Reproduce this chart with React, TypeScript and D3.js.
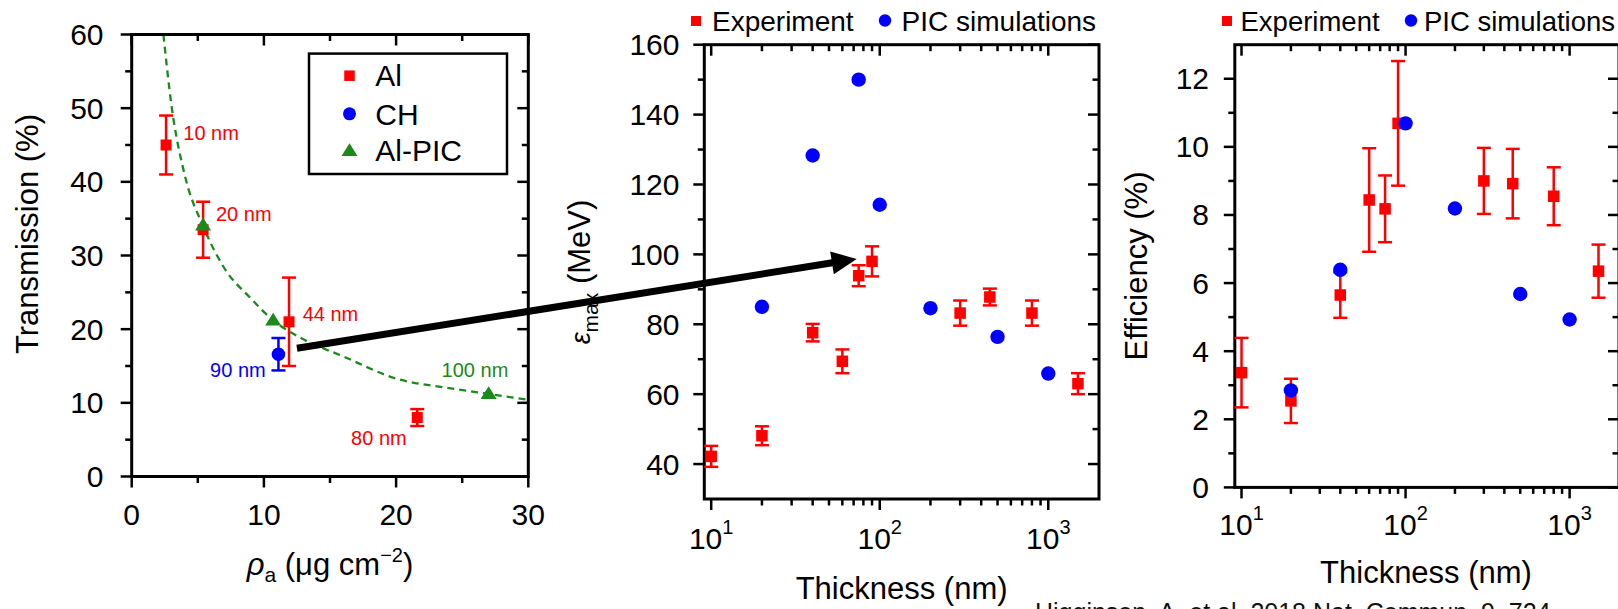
import React from "react";
import * as d3 from "d3";

// ---------- data: panel a (transmission vs areal density) ----------
const alRho = [2.6, 5.4, 11.9, 21.6];
const alTrans = [45, 33.5, 21, 8];
const alErr = [4, 3.8, 6, 1.15];
const alLabels = ["10 nm", "20 nm", "44 nm", "80 nm"];
const chRho = [11.1];
const chTrans = [16.6];
const chErr = [2.2];
const chLabels = ["90 nm"];
const picRho = [5.4, 10.7, 27.0];
const picTrans = [34.1, 21.2, 11.2];
const fitRho = [2.4, 3, 4, 5.4, 7, 9, 10.7, 12.8, 16, 20, 24, 27, 30];
const fitTrans = [60, 50.5, 41, 34, 28.3, 24.2, 21.2, 18.8, 16.3, 13.3, 12.0, 11.2, 10.4];
const aXTicks = [0, 10, 20, 30];
const aYTicks = [0, 10, 20, 30, 40, 50, 60];

// ---------- data: panel b (max energy vs thickness) ----------
const expThick = [10, 20, 40, 60, 75, 90, 300, 450, 800, 1500];
const expEnergy = [42.2, 48.1, 77.6, 69.4, 93.9, 98.0, 83.2, 87.8, 83.2, 63.0];
const expEnergyErr = [3, 2.7, 2.5, 3.4, 3, 4.3, 3.6, 2.4, 3.6, 3];
const picThick = [20, 40, 75, 100, 200, 500, 1000];
const picEnergy = [85, 128.3, 150, 114.2, 84.6, 76.4, 65.9];
const bYTicks = [40, 60, 80, 100, 120, 140, 160];

// ---------- data: panel c (efficiency vs thickness) ----------
const expEff = [3.37, 2.54, 5.65, 8.44, 8.18, 10.69, 9.0, 8.92, 8.55, 6.35];
const expEffErr = [1.02, 0.65, 0.67, 1.52, 0.98, 1.83, 0.97, 1.02, 0.85, 0.78];
const picEffThick = [20, 40, 100, 200, 500, 1000];
const picEff = [2.85, 6.39, 10.69, 8.19, 5.68, 4.93];
const cYTicks = [0, 2, 4, 6, 8, 10, 12];

const logMajors = [10, 100, 1000];
const logExps = ["1", "2", "3"];

// arrow: from panel a point to panel b point
const arrowFrom = { rho: 12.5, trans: 17.4 };
const arrowTo = { thick: 73, energy: 98.7 };

const citation = "Higginson, A. et al. 2018 Nat. Commun. 9, 724";

const FONT = "'Liberation Sans', Arial, Helvetica, sans-serif";
const RED = "#ff0000";
const BLUE = "#0000ff";
const GREEN = "#1a8a1a";
const MAJ = 11;
const MIN = 6.5;
const SW = 2.5;

function logMinors(domain: number[]) {
  const out: number[] = [];
  for (const d of [1, 10, 100, 1000]) {
    for (let m = 2; m <= 9; m++) {
      const v = d * m;
      if (v > domain[0] && v < domain[1]) out.push(v);
    }
  }
  return out;
}

function Frame({ x0, x1, y0, y1 }: any) {
  return (
    <rect x={x0} y={y1} width={x1 - x0} height={y0 - y1} fill="none" stroke="#000" strokeWidth={SW + 0.5} />
  );
}

function Ticks({ xs, ys, xMaj, xMin, yMaj, yMin }: any) {
  const [x0, x1] = xs.range();
  const [y0, y1] = ys.range();
  const els: any[] = [];
  xMaj.forEach((v: number, i: number) => {
    const x = xs(v);
    els.push(<line key={"xb" + i} x1={x} x2={x} y1={y0} y2={y0 + MAJ} />);
    els.push(<line key={"xt" + i} x1={x} x2={x} y1={y1} y2={y1 + MAJ} />);
  });
  xMin.forEach((v: number, i: number) => {
    const x = xs(v);
    els.push(<line key={"xbm" + i} x1={x} x2={x} y1={y0} y2={y0 + MIN} />);
    els.push(<line key={"xtm" + i} x1={x} x2={x} y1={y1} y2={y1 + MIN} />);
  });
  yMaj.forEach((v: number, i: number) => {
    const y = ys(v);
    els.push(<line key={"yl" + i} x1={x0 - MAJ} x2={x0} y1={y} y2={y} />);
    els.push(<line key={"yr" + i} x1={x1 - MAJ} x2={x1} y1={y} y2={y} />);
  });
  yMin.forEach((v: number, i: number) => {
    const y = ys(v);
    els.push(<line key={"ylm" + i} x1={x0 - MIN} x2={x0} y1={y} y2={y} />);
    els.push(<line key={"yrm" + i} x1={x1 - MIN} x2={x1} y1={y} y2={y} />);
  });
  return <g stroke="#000" strokeWidth={SW}>{els}</g>;
}

function ErrBar({ x, yTop, yBot, color }: any) {
  const cw = 7;
  return (
    <g stroke={color} strokeWidth={2.5}>
      <line x1={x} x2={x} y1={yTop} y2={yBot} />
      <line x1={x - cw} x2={x + cw} y1={yTop} y2={yTop} />
      <line x1={x - cw} x2={x + cw} y1={yBot} y2={yBot} />
    </g>
  );
}

function Square({ x, y, s = 11, color = RED }: any) {
  return <rect x={x - s / 2} y={y - s / 2} width={s} height={s} fill={color} />;
}

function Tri({ x, y, s = 16, color = GREEN }: any) {
  const h = s * 0.8;
  return <path d={`M${x},${y - h * 0.6} L${x + s / 2},${y + h * 0.4} L${x - s / 2},${y + h * 0.4} Z`} fill={color} />;
}

export default function App() {
  const ax = d3.scaleLinear().domain([0, 30]).range([131.7, 528.3]);
  const ay = d3.scaleLinear().domain([0, 60]).range([476.5, 34.5]);
  const bx = d3.scaleLog().domain([9.1, 2000]).range([704.3, 1099]);
  const by = d3.scaleLinear().domain([30, 160]).range([499, 44.7]);
  const cx = d3.scaleLog().domain([9.1, 2000]).range([1234.8, 1619]);
  const cy = d3.scaleLinear().domain([0, 13]).range([487.4, 44.7]);

  const fitLine = d3
    .line<number>()
    .x((_, i) => ax(fitRho[i]))
    .y((d) => ay(d))
    .curve(d3.curveMonotoneX)(fitTrans);

  const minorsLog = logMinors(bx.domain());

  // arrow geometry derived from data scales
  const sx = ax(arrowFrom.rho), sy = ay(arrowFrom.trans);
  const tx = bx(arrowTo.thick), ty = by(arrowTo.energy);
  const len = Math.hypot(tx - sx, ty - sy);
  const ux = (tx - sx) / len, uy = (ty - sy) / len;
  const hl = 25, hw = 11.5;
  const bxp = tx - ux * hl, byp = ty - uy * hl;
  const nx = -uy, ny = ux;

  const tickFont = 30;

  return (
    <svg
      width={1618}
      height={609}
      style={{ position: "absolute", left: 0, top: 0, background: "#fff" }}
      fontFamily={FONT}
    >
      <rect x={0} y={0} width={1618} height={609} fill="#fff" />

      {/* ================= Panel a ================= */}
      <path d={fitLine || ""} fill="none" stroke={GREEN} strokeWidth={2.3} strokeDasharray="7 5" />
      <Frame x0={131.7} x1={528.3} y0={476.5} y1={34.5} />
      <Ticks xs={ax} ys={ay} xMaj={aXTicks} xMin={[5, 15, 25]} yMaj={aYTicks} yMin={[5, 15, 25, 35, 45, 55]} />
      {aYTicks.map((v) => (
        <text key={"ayl" + v} x={103.5} y={ay(v) + 10.5} textAnchor="end" fontSize={tickFont}>{v}</text>
      ))}
      {aXTicks.map((v) => (
        <text key={"axl" + v} x={ax(v)} y={525} textAnchor="middle" fontSize={tickFont}>{v}</text>
      ))}
      <text transform="translate(38,234) rotate(-90)" textAnchor="middle" fontSize={31}>Transmission (%)</text>
      <text x={330} y={575} textAnchor="middle" fontSize={31}>
        <tspan fontStyle="italic">ρ</tspan>
        <tspan fontSize={21} dy={7}>a</tspan>
        <tspan dy={-7}> (μg cm</tspan>
        <tspan fontSize={20} dy={-13}>−2</tspan>
        <tspan dy={13}>)</tspan>
      </text>

      {alRho.map((r, i) => (
        <g key={"al" + i}>
          <ErrBar x={ax(r)} yTop={ay(alTrans[i] + alErr[i])} yBot={ay(alTrans[i] - alErr[i])} color={RED} />
          <Square x={ax(r)} y={ay(alTrans[i])} s={11} />
        </g>
      ))}
      {chRho.map((r, i) => (
        <g key={"ch" + i}>
          <ErrBar x={ax(r)} yTop={ay(chTrans[i] + chErr[i])} yBot={ay(chTrans[i] - chErr[i])} color={BLUE} />
          <circle cx={ax(r)} cy={ay(chTrans[i])} r={6.8} fill={BLUE} />
        </g>
      ))}
      {picRho.map((r, i) => (
        <Tri key={"pic" + i} x={ax(r)} y={ay(picTrans[i])} s={16} />
      ))}
      <g fontSize={20}>
        <text x={183.3} y={140} fill={RED}>{alLabels[0]}</text>
        <text x={216} y={221} fill={RED}>{alLabels[1]}</text>
        <text x={302.7} y={320.5} fill={RED}>{alLabels[2]}</text>
        <text x={406.7} y={444.5} fill={RED} textAnchor="end">{alLabels[3]}</text>
        <text x={265.7} y={376.5} fill={BLUE} textAnchor="end">{chLabels[0]}</text>
        <text x={508.3} y={376.5} fill={GREEN} textAnchor="end">100 nm</text>
      </g>

      {/* legend a */}
      <rect x={309} y={53.6} width={198} height={120.4} fill="#fff" stroke="#000" strokeWidth={2.5} />
      <Square x={349.5} y={75.7} s={10.5} />
      <circle cx={349.5} cy={113.8} r={6.5} fill={BLUE} />
      <Tri x={349.5} y={151} s={16} />
      <g fontSize={30}>
        <text x={375.3} y={86}>Al</text>
        <text x={375.3} y={124.5}>CH</text>
        <text x={375.3} y={161}>Al-PIC</text>
      </g>

      {/* ================= Panel b ================= */}
      <Frame x0={704.3} x1={1099} y0={499} y1={44.7} />
      <Ticks xs={bx} ys={by} xMaj={logMajors} xMin={minorsLog} yMaj={bYTicks} yMin={[50, 70, 90, 110, 130, 150]} />
      {bYTicks.map((v) => (
        <text key={"byl" + v} x={679.5} y={by(v) + 10.5} textAnchor="end" fontSize={tickFont}>{v}</text>
      ))}
      {logMajors.map((v, i) => (
        <text key={"bxl" + v} x={bx(v)} y={549} textAnchor="middle" fontSize={tickFont}>
          10<tspan fontSize={20} dy={-15}>{logExps[i]}</tspan>
        </text>
      ))}
      <text x={901.6} y={599} textAnchor="middle" fontSize={31}>Thickness (nm)</text>
      <text transform="translate(590,272) rotate(-90)" textAnchor="middle" fontSize={31}>
        <tspan fontStyle="italic" fontSize={27}>ε</tspan>
        <tspan fontSize={21} dy={8}>max</tspan>
        <tspan dy={-8}> (MeV)</tspan>
      </text>
      {expThick.map((t, i) => (
        <g key={"be" + i}>
          <ErrBar x={bx(t)} yTop={by(expEnergy[i] + expEnergyErr[i])} yBot={by(expEnergy[i] - expEnergyErr[i])} color={RED} />
          <Square x={bx(t)} y={by(expEnergy[i])} s={11.5} />
        </g>
      ))}
      {picThick.map((t, i) => (
        <circle key={"bp" + i} cx={bx(t)} cy={by(picEnergy[i])} r={7.2} fill={BLUE} />
      ))}
      {/* legend b */}
      <rect x={691} y={16} width={10} height={10} fill={RED} />
      <text x={712} y={30.5} fontSize={28}>Experiment</text>
      <circle cx={885} cy={20.5} r={6.2} fill={BLUE} />
      <text x={901.6} y={30.5} fontSize={28}>PIC simulations</text>

      {/* ================= Panel c ================= */}
      <Frame x0={1234.8} x1={1619} y0={487.4} y1={44.7} />
      <Ticks xs={cx} ys={cy} xMaj={logMajors} xMin={minorsLog} yMaj={cYTicks} yMin={[1, 3, 5, 7, 9, 11]} />
      {cYTicks.map((v) => (
        <text key={"cyl" + v} x={1209} y={cy(v) + 10.5} textAnchor="end" fontSize={tickFont}>{v}</text>
      ))}
      {logMajors.map((v, i) => (
        <text key={"cxl" + v} x={cx(v)} y={535} textAnchor="middle" fontSize={tickFont}>
          10<tspan fontSize={20} dy={-15}>{logExps[i]}</tspan>
        </text>
      ))}
      <text x={1426} y={583} textAnchor="middle" fontSize={31}>Thickness (nm)</text>
      <text transform="translate(1147,266) rotate(-90)" textAnchor="middle" fontSize={31}>Efficiency (%)</text>
      {expThick.map((t, i) => (
        <g key={"ce" + i}>
          <ErrBar x={cx(t)} yTop={cy(expEff[i] + expEffErr[i])} yBot={cy(expEff[i] - expEffErr[i])} color={RED} />
          <Square x={cx(t)} y={cy(expEff[i])} s={11.5} />
        </g>
      ))}
      {picEffThick.map((t, i) => (
        <circle key={"cp" + i} cx={cx(t)} cy={cy(picEff[i])} r={7.2} fill={BLUE} />
      ))}
      {/* legend c */}
      <rect x={1222} y={16} width={10} height={10} fill={RED} />
      <text x={1240.5} y={30.5} fontSize={27.5}>Experiment</text>
      <circle cx={1411} cy={20.5} r={6.2} fill={BLUE} />
      <text x={1424} y={30.5} fontSize={27.5}>PIC simulations</text>

      {/* ================= Arrow ================= */}
      <line x1={sx} y1={sy} x2={bxp + ux * 2} y2={byp + uy * 2} stroke="#000" strokeWidth={7} />
      <path
        d={`M${tx},${ty} L${bxp + nx * hw},${byp + ny * hw} L${bxp - nx * hw},${byp - ny * hw} Z`}
        fill="#000"
      />

      {/* citation (partly cut off at bottom) */}
      <text x={1035} y={621} fontSize={25} fill="#111">{citation}</text>
    </svg>
  );
}
